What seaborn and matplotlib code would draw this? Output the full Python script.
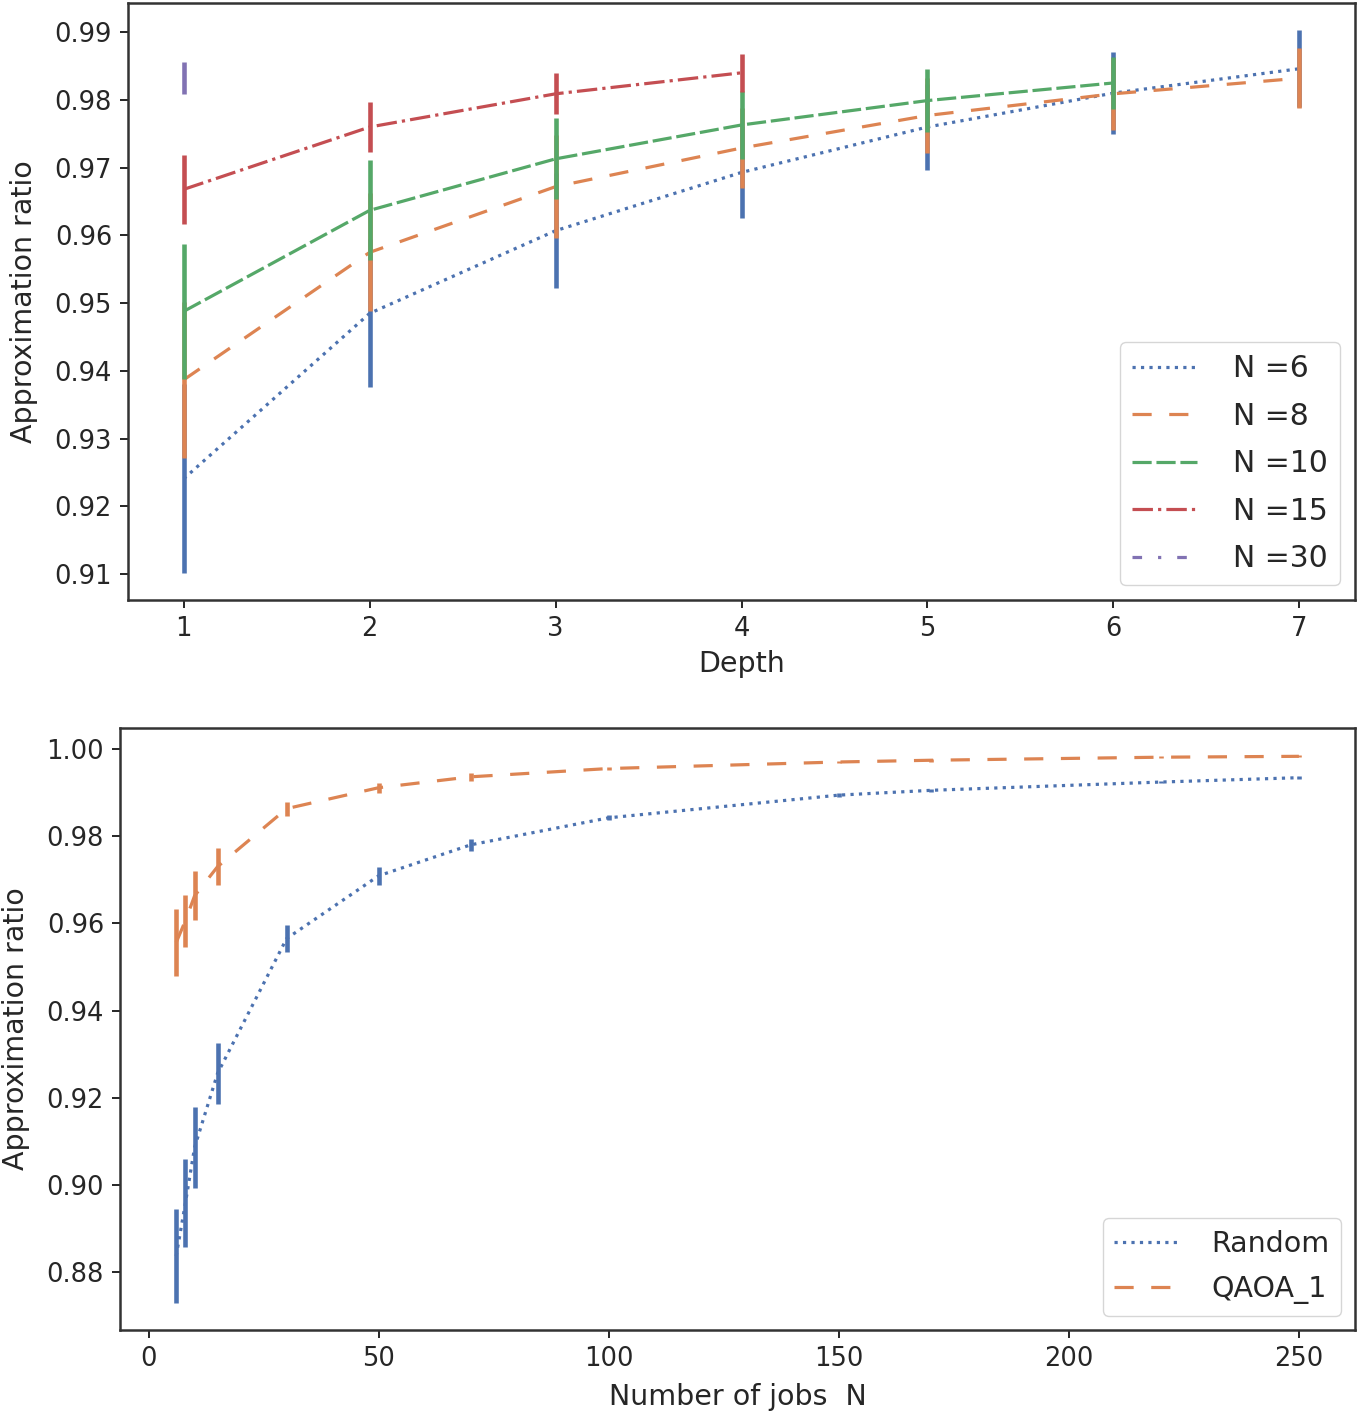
import numpy as np
import pandas as pd
import matplotlib
matplotlib.use("Agg")
import matplotlib.pyplot as plt
import seaborn as sns

# top panel: approximation ratio vs QAOA depth, one series per problem size N
depth = [1, 2, 3, 4, 5, 6, 7]
n6_mean = [0.9241, 0.9485, 0.9607, 0.9693, 0.9760, 0.9810, 0.9846]
n6_err = [0.0139, 0.0109, 0.0085, 0.0068, 0.0063, 0.0060, 0.0057]
n8_mean = [0.9387, 0.9575, 0.9672, 0.9729, 0.9777, 0.9809, 0.9832]
n8_err = [0.0115, 0.0087, 0.0076, 0.0059, 0.0056, 0.0053, 0.0044]
n10_mean = [0.9488, 0.9637, 0.9713, 0.9763, 0.9799, 0.9825]
n10_err = [0.0100, 0.0074, 0.0060, 0.0050, 0.0046, 0.0038]
n15_mean = [0.9668, 0.9760, 0.9809, 0.9840]
n15_err = [0.0051, 0.0037, 0.0030, 0.0028]
n30_mean = [0.9832]
n30_err = [0.0024]
top_labels = ["N =6", "N =8", "N =10", "N =15", "N =30"]

# bottom panel: approximation ratio vs number of jobs
jobs = [6, 8, 10, 15, 30, 50, 70, 100, 150, 170, 220, 250]
random_mean = [0.8837, 0.8958, 0.9086, 0.9256, 0.9565, 0.9709, 0.9780, 0.9842, 0.9894, 0.9905, 0.9924, 0.9934]
random_err = [0.0107, 0.0101, 0.0092, 0.0070, 0.0031, 0.0020, 0.0013, 0.0006, 0.0004, 0.0004, 0.0003, 0.0003]
qaoa_mean = [0.9556, 0.9606, 0.9663, 0.9730, 0.9863, 0.9911, 0.9936, 0.9955, 0.9970, 0.9974, 0.9981, 0.9983]
qaoa_err = [0.0076, 0.0060, 0.0056, 0.0042, 0.0016, 0.0011, 0.0009, 0.0004, 0.0003, 0.0003, 0.0002, 0.0002]
bottom_labels = ["Random", "QAOA_1"]

sns.set_theme(style="ticks", palette="deep")
plt.rcParams["font.family"] = ["DejaVu Sans"]
plt.rcParams["axes.linewidth"] = 1.8
plt.rcParams["axes.edgecolor"] = ".2"
plt.rcParams["xtick.major.size"] = 5.5
plt.rcParams["ytick.major.size"] = 5.5
plt.rcParams["xtick.major.width"] = 1.4
plt.rcParams["ytick.major.width"] = 1.4

pal = sns.color_palette("deep")
styles = [":", (0, (6, 5.5)), (0, (6, 1.5)), "-.", (0, (3, 5, 1, 5))]

TICK_FS = 18.5
LABEL_FS = 20.5
LW = 2.3
ELW = 3.3


def draw_series(ax, x, mean, err, color, ls, label):
	df = pd.DataFrame({"x": x, "y": mean})
	sns.lineplot(data=df, x="x", y="y", ax=ax, color=color, linestyle=ls,
		linewidth=LW, label=label, errorbar=None)
	ax.errorbar(x, mean, yerr=err, fmt="none", ecolor=color, elinewidth=ELW, capsize=0)


fig = plt.figure(figsize=(13.58, 14.19), dpi=100)

#############
# top panel #
#############
ax1 = fig.add_axes([0.0943, 0.5772, 0.9035, 0.4207])
top_means = [n6_mean, n8_mean, n10_mean, n15_mean, n30_mean]
top_errs = [n6_err, n8_err, n10_err, n15_err, n30_err]
for i in range(len(top_labels)):
	m = top_means[i]
	draw_series(ax1, depth[:len(m)], m, top_errs[i], pal[i], styles[i], top_labels[i])
ax1.set_xlabel("Depth", fontsize=LABEL_FS, labelpad=6)
ax1.set_ylabel("Approximation ratio", fontsize=LABEL_FS, labelpad=12)
ax1.set_xticks(depth)
ax1.set_yticks([0.91, 0.92, 0.93, 0.94, 0.95, 0.96, 0.97, 0.98, 0.99])
ax1.tick_params(labelsize=TICK_FS, pad=6)
leg1 = ax1.legend(loc="lower right", fontsize=21.5, handletextpad=1.2,
	handlelength=2.2, labelspacing=0.62)
for h in leg1.legend_handles:
	h.set_linewidth(LW)

################
# bottom panel #
################
ax2 = fig.add_axes([0.0884, 0.0627, 0.9094, 0.4242])
draw_series(ax2, jobs, random_mean, random_err, pal[0], styles[0], bottom_labels[0])
draw_series(ax2, jobs, qaoa_mean, qaoa_err, pal[1], styles[1], bottom_labels[1])
ax2.set_xlabel("Number of jobs  N", fontsize=LABEL_FS, labelpad=8)
ax2.set_ylabel("Approximation ratio", fontsize=LABEL_FS, labelpad=12)
ax2.set_yticks([0.88, 0.90, 0.92, 0.94, 0.96, 0.98, 1.00])
ax2.set_xticks([0, 50, 100, 150, 200, 250])
ax2.tick_params(labelsize=TICK_FS, pad=6)
leg2 = ax2.legend(loc="lower right", fontsize=20.5, handletextpad=1.2,
	handlelength=2.2, labelspacing=0.62)
for h in leg2.legend_handles:
	h.set_linewidth(LW)

fig.savefig("out.png", dpi=100)
